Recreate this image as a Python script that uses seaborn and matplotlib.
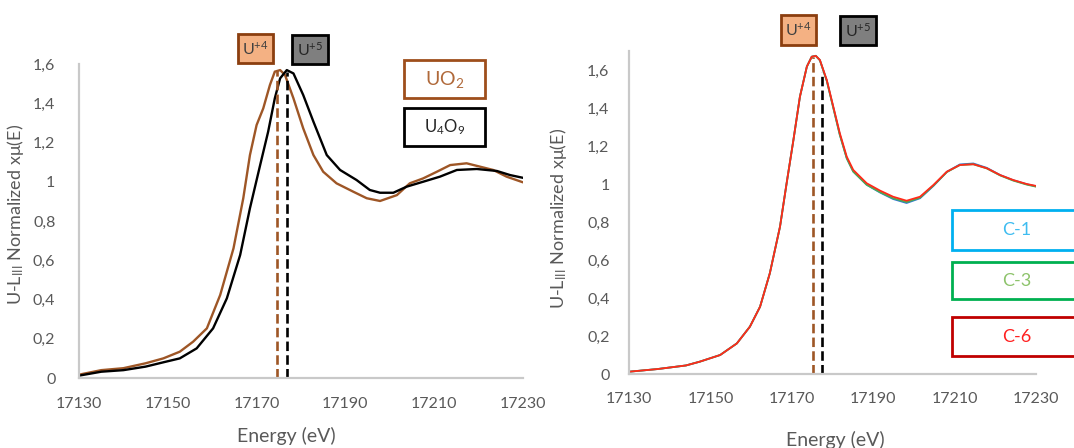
import matplotlib
matplotlib.use('Agg')
import matplotlib.pyplot as plt
from matplotlib.patches import Rectangle
from matplotlib.ticker import FuncFormatter, MultipleLocator
import seaborn as sns

# ----------------- Data ----------------
# left panel: reference oxides
e_uo2 = [17130, 17135, 17140, 17145, 17149, 17152.7, 17155.7, 17158.8, 17161.8, 17164.8,
         17167.0, 17168.5, 17170.0, 17171.5, 17173.0, 17174.1, 17175.3, 17176.4, 17178.3, 17180.5,
         17182.8, 17185.0, 17188.0, 17191.8, 17194.8, 17197.8, 17201.6, 17204.5, 17207.5, 17210.6,
         17213.6, 17217.3, 17220.3, 17223.3, 17226.3, 17230]
uo2 = [0.017, 0.040, 0.050, 0.075, 0.100, 0.134, 0.185, 0.253, 0.423, 0.661,
       0.916, 1.136, 1.289, 1.374, 1.493, 1.561, 1.569, 1.544, 1.425, 1.272,
       1.136, 1.051, 0.992, 0.949, 0.916, 0.902, 0.932, 0.992, 1.017, 1.051,
       1.085, 1.094, 1.077, 1.060, 1.026, 0.997]

e_u4o9 = [17130, 17135, 17140, 17145, 17149, 17152.7, 17156.5, 17160.2, 17163.3, 17166.3,
          17168.5, 17170.8, 17172.6, 17174.1, 17175.3, 17176.8, 17178.3, 17180.5, 17182.8, 17185.8,
          17188.8, 17192.5, 17195.5, 17197.8, 17200.8, 17203.8, 17207.5, 17211.3, 17215.1, 17219.6,
          17224.1, 17227.1, 17230]
u4o9 = [0.012, 0.032, 0.040, 0.058, 0.080, 0.100, 0.151, 0.253, 0.406, 0.627,
        0.865, 1.085, 1.255, 1.425, 1.527, 1.569, 1.552, 1.442, 1.306, 1.136,
        1.060, 1.009, 0.958, 0.944, 0.944, 0.975, 1.000, 1.026, 1.060, 1.065,
        1.055, 1.034, 1.020]

# right panel: samples
e_samples = [17130, 17137, 17144, 17147.4, 17152.4, 17156.5, 17159.7, 17162.2, 17164.6, 17167.1,
             17168.7, 17170.4, 17172.0, 17173.7, 17174.9, 17175.9, 17176.9, 17178.6, 17180.2, 17181.8,
             17183.5, 17185.1, 17188.4, 17191.7, 17194.9, 17198.2, 17201.5, 17204.8, 17208.1, 17211.3,
             17214.6, 17217.9, 17221.2, 17224.4, 17227.7, 17230]
c1 = [0.012, 0.026, 0.045, 0.065, 0.100, 0.161, 0.249, 0.354, 0.530, 0.775,
      1.000, 1.232, 1.460, 1.618, 1.670, 1.675, 1.652, 1.544, 1.402, 1.260,
      1.136, 1.066, 0.996, 0.955, 0.921, 0.900, 0.925, 0.990, 1.064, 1.103,
      1.108, 1.085, 1.047, 1.020, 0.999, 0.988]
c3 = [0.012, 0.026, 0.045, 0.065, 0.100, 0.161, 0.249, 0.354, 0.530, 0.775,
      1.000, 1.232, 1.460, 1.618, 1.670, 1.674, 1.651, 1.542, 1.400, 1.258,
      1.135, 1.065, 0.996, 0.957, 0.925, 0.905, 0.928, 0.992, 1.063, 1.100,
      1.104, 1.082, 1.045, 1.018, 0.997, 0.986]
c6 = [0.012, 0.026, 0.045, 0.065, 0.100, 0.161, 0.249, 0.354, 0.530, 0.775,
      1.000, 1.232, 1.460, 1.618, 1.670, 1.674, 1.653, 1.547, 1.407, 1.267,
      1.144, 1.074, 1.004, 0.965, 0.933, 0.912, 0.933, 0.995, 1.065, 1.100,
      1.104, 1.083, 1.047, 1.021, 1.000, 0.990]

# white-line positions (energy, height) for U+4 / U+5
left_edges = [(17174.7, 1.57), (17176.8, 1.56)]
right_edges = [(17175.3, 1.67), (17177.5, 1.59)]

xticks = [17130, 17150, 17170, 17190, 17210, 17230]

# ----------------- Style ----------------
sns.set_style('white')
plt.rcParams['font.family'] = ['Lato', 'DejaVu Sans']
plt.rcParams['mathtext.fontset'] = 'custom'
plt.rcParams['mathtext.rm'] = 'Lato'
plt.rcParams['mathtext.it'] = 'Lato:italic'
plt.rcParams['mathtext.bf'] = 'Lato:bold'
plt.rcParams['lines.solid_joinstyle'] = 'round'
plt.rcParams['lines.solid_capstyle'] = 'round'

BROWN = '#9E5626'
GREY_TXT = '#595959'
W, H = 1074, 448

fig = plt.figure(figsize=(W / 100, H / 100), dpi=100)
ax1 = fig.add_axes([79 / W, 1 - 378 / H, 444 / W, 314 / H])
ax2 = fig.add_axes([629 / W, 1 - 374 / H, 407 / W, 323 / H])

# --- curves ---
sns.lineplot(x=e_uo2, y=uo2, ax=ax1, color=BROWN, lw=1.7)
sns.lineplot(x=e_u4o9, y=u4o9, ax=ax1, color='black', lw=1.7)

sns.lineplot(x=e_samples, y=c1, ax=ax2, color='#2E75D6', lw=1.3)
sns.lineplot(x=e_samples, y=c3, ax=ax2, color='#4CAF50', lw=1.3)
sns.lineplot(x=e_samples, y=c6, ax=ax2, color='#FF2A1A', lw=1.3)

# --- dashed white-line markers ---
for ax, edges in [(ax1, left_edges), (ax2, right_edges)]:
    for (en, top), col in zip(edges, [BROWN, 'black']):
        ax.vlines(en, 0, top, colors=col, linestyles=(0, (3.6, 1.6)), lw=1.9)


def comma_fmt(v, pos):
    s = f'{v:.1f}'.rstrip('0').rstrip('.')
    return s.replace('.', ',')


ylabel = r'U-L$_{\mathregular{III}}$ Normalized x$\mathregular{\mu}$(E)'
for ax, ymax in [(ax1, 1.6), (ax2, 1.7)]:
    ax.set_xlim(17130, 17230)
    ax.set_ylim(0, ymax)
    ax.set_xticks(xticks)
    ax.yaxis.set_major_locator(MultipleLocator(0.2))
    ax.yaxis.set_major_formatter(FuncFormatter(comma_fmt))
    for side in ['top', 'right']:
        ax.spines[side].set_visible(False)
    for side in ['left', 'bottom']:
        ax.spines[side].set_color('#C9C9C9')
        ax.spines[side].set_linewidth(1.6)
    ax.tick_params(length=0, labelsize=11.5, labelcolor=GREY_TXT)
    ax.set_xlabel('Energy (eV)', fontsize=14, color=GREY_TXT)
    ax.set_ylabel(ylabel, fontsize=13, color=GREY_TXT)
    ax.grid(False)

ax1.tick_params(axis='y', pad=17)
ax1.tick_params(axis='x', pad=14)
ax2.tick_params(axis='y', pad=14)
ax2.tick_params(axis='x', pad=13)
ax1.xaxis.set_label_coords(0.467, -0.155)
ax2.xaxis.set_label_coords(0.506, -0.175)
ax1.yaxis.set_label_coords(-0.12, 0.52)
ax2.yaxis.set_label_coords(-0.147, 0.48)

# --- labelled boxes (pixel layout, top-left origin) ---
box_labels = [r'U$^{\mathregular{+4}}$', r'U$^{\mathregular{+5}}$', r'UO$_{\mathregular{2}}$',
              r'U$_{\mathregular{4}}$O$_{\mathregular{9}}$',
              r'U$^{\mathregular{+4}}$', r'U$^{\mathregular{+5}}$', 'C-1', 'C-3', 'C-6']
box_layout = [
    # x0, y0, x1, y1, face, edge, text colour, fontsize, text x
    (238, 34, 273, 63, '#F4B183', '#8B3E0F', '#404040', 11.5, None),
    (292, 35, 328, 64, '#7F7F7F', '#000000', '#262626', 11.5, None),
    (404, 60, 485, 98, 'white', '#9E4E1C', '#B0693A', 14, None),
    (404, 108, 485, 146, 'white', '#000000', '#262626', 12, None),
    (781, 15, 816, 45, '#F4B183', '#8B3E0F', '#404040', 11.5, None),
    (840, 16, 876, 45, '#7F7F7F', '#000000', '#262626', 11.5, None),
    (952, 210, 1085, 250, 'white', '#00B0F0', '#3EBCF0', 13, 1017),
    (952, 262, 1085, 299, 'white', '#00B050', '#8DC36B', 13, 1017),
    (952, 317, 1085, 356, 'white', '#C00000', '#FF2020', 13, 1017),
]
for label, (x0, y0, x1, y1, fc, ec, tc, fs, tx) in zip(box_labels, box_layout):
    fig.add_artist(Rectangle((x0 / W, 1 - y1 / H), (x1 - x0) / W, (y1 - y0) / H,
                             transform=fig.transFigure, facecolor=fc, edgecolor=ec, lw=2.0))
    cx = (x0 + x1) / 2 if tx is None else tx
    fig.text(cx / W, 1 - (y0 + y1) / 2 / H, label, color=tc, fontsize=fs,
             ha='center', va='center')

fig.savefig('out.png', dpi=100)
